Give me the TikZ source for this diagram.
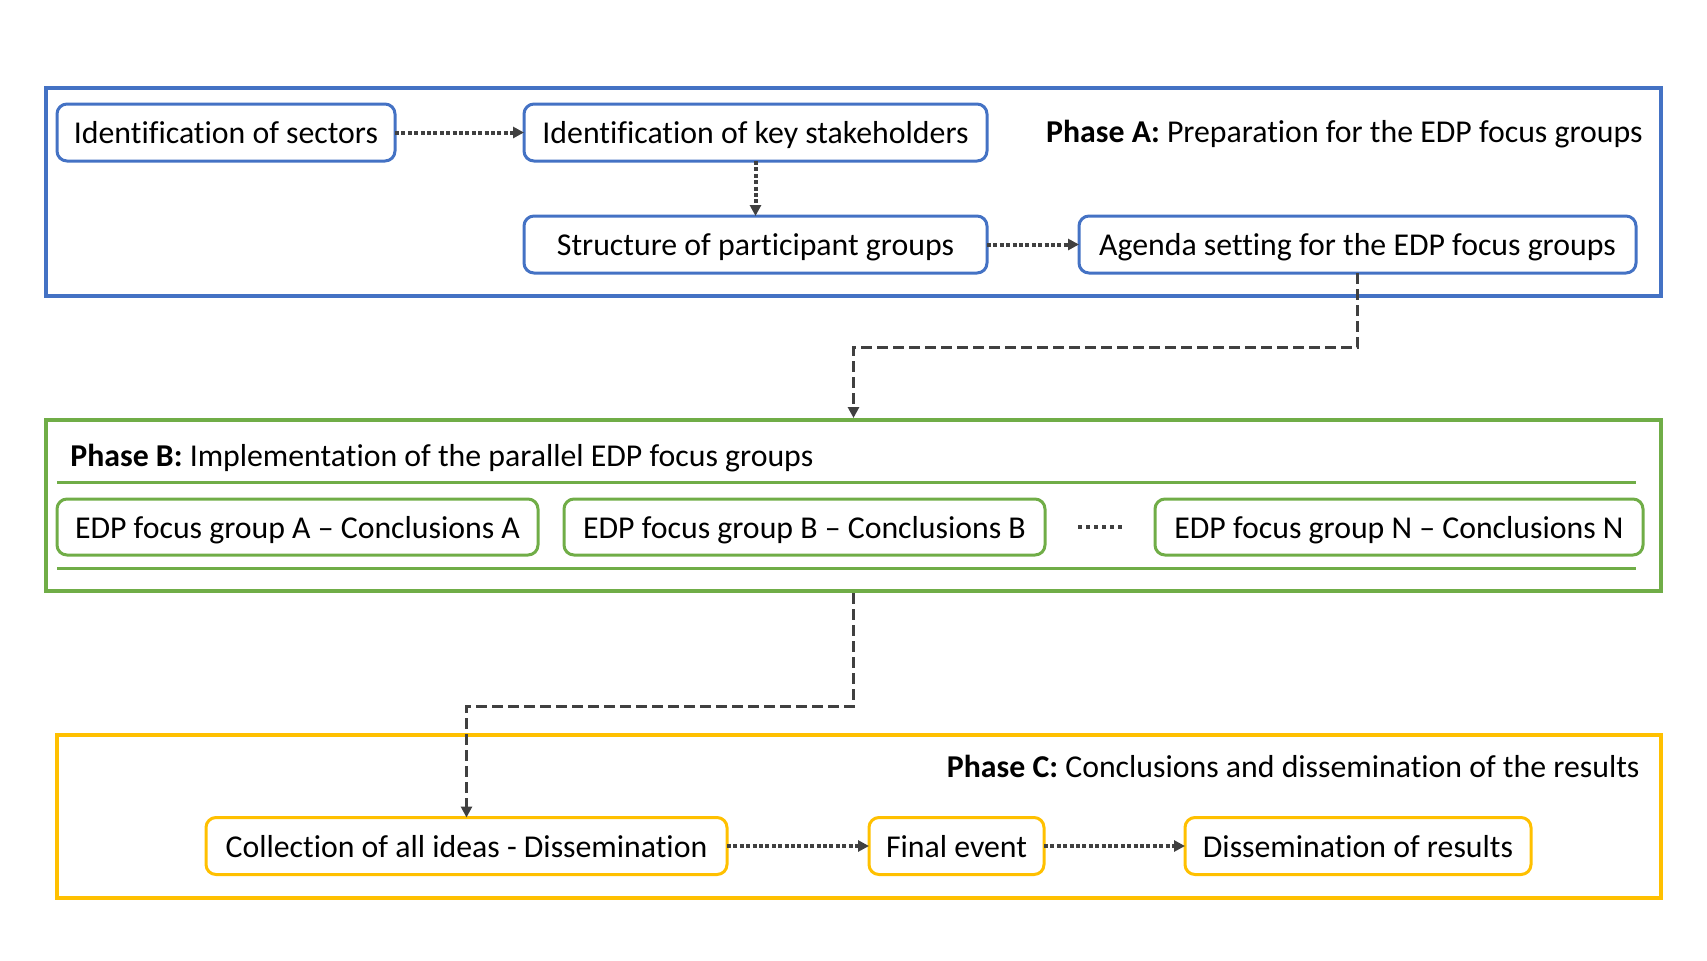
\documentclass[tikz,border=0pt]{standalone}
\usepackage{fontspec}
\setmainfont{Carlito}[Ligatures=NoCommon]
\usepackage{xcolor}
\definecolor{phaseblue}{HTML}{4472C4}
\definecolor{phasegreen}{HTML}{70AD47}
\definecolor{phasegold}{HTML}{FFC000}
\definecolor{arrowgray}{HTML}{404040}
\usepackage{tikz}
\usetikzlibrary{positioning}
\usetikzlibrary{arrows.meta}

\tikzset{
  stepbox/.style={draw, rounded corners=5pt, line width=1.5pt, minimum height=28.5pt, inner sep=2pt, outer sep=0pt, text height=11pt, text depth=0pt, font=\fontsize{15.9}{19}\selectfont},
  bluebox/.style={stepbox, draw=phaseblue},
  greenbox/.style={stepbox, draw=phasegreen, minimum height=28pt},
  goldbox/.style={stepbox, draw=phasegold},
  phaseframe/.style={draw, line width=2pt, inner sep=0pt},
  phaselabel/.style={font=\fontsize{15.9}{19}\selectfont, inner sep=0pt},
  dotarrow/.style={arrowgray, line width=2pt, dash pattern=on 2pt off 1.2pt, -{Triangle[length=5.5pt,width=5.5pt]}},
  dasharrow/.style={arrowgray, line width=1.5pt, dash pattern=on 5.5pt off 2.5pt, -{Triangle[length=5.5pt,width=5.5pt]}}
}

\begin{document}
\begin{tikzpicture}[x=0.5pt,y=-0.5pt]
\useasboundingbox (0,0) rectangle (1707,960);

% Phase A
\node (phaseA) at (853.5,192) [phaseframe, draw=phaseblue, minimum width=807.5pt, minimum height=104pt] {};
\node (labA) at (1643,134) [phaselabel, anchor=east] {\textbf{Phase A:} Preparation for the EDP focus groups};
\node (sectors) at (226,132.5) [bluebox, minimum width=169pt] {Identification of sectors};
\node (stake) [right=64.5pt of sectors] [bluebox, minimum width=231.5pt] {Identification of key stakeholders};
\node (struct) [below=27.5pt of stake] [bluebox, minimum width=231.5pt] {Structure of participant groups};
\node (agenda) [right=46pt of struct] [bluebox, minimum width=278.5pt] {Agenda setting for the EDP focus groups};
\draw[dotarrow] (sectors) -- (stake);
\draw[dotarrow] (stake) -- (struct);
\draw[dotarrow] (struct) -- (agenda);

% Phase B
\node (phaseB) at (853.5,505.5) [phaseframe, draw=phasegreen, minimum width=807.5pt, minimum height=85.5pt] {};
\node (labB) at (70,458) [phaselabel, anchor=west] {\textbf{Phase B:} Implementation of the parallel EDP focus groups};
\draw[phasegreen, line width=1.5pt] (57,482) -- (1636,482);
\draw[phasegreen, line width=1.5pt] (57,568) -- (1636,568);
\node (focusA) at (297.5,527) [greenbox, minimum width=240.5pt] {EDP focus group A -- Conclusions A};
\node (focusB) [right=13pt of focusA] [greenbox, minimum width=240.5pt] {EDP focus group B -- Conclusions B};
\node (focusN) at (1399,527) [greenbox, minimum width=244pt] {EDP focus group N -- Conclusions N};
\draw[arrowgray, line width=2pt, dash pattern=on 2pt off 2pt, shorten <=16.5pt, shorten >=15pt] (focusB) -- (focusN);

% Phase C
\node (phaseC) at (859,816.5) [phaseframe, draw=phasegold, minimum width=802pt, minimum height=81.5pt] {};
\node (labC) at (1640,766) [phaselabel, anchor=east] {\textbf{Phase C:} Conclusions and dissemination of the results};
\node (collect) at (466.5,846) [goldbox, minimum width=260.5pt] {Collection of all ideas - Dissemination};
\node (final) [right=71pt of collect] [goldbox, minimum width=87.5pt] {Final event};
\node (dissem) [right=70.5pt of final] [goldbox, minimum width=173pt] {Dissemination of results};
\draw[dotarrow] (collect) -- (final);
\draw[dotarrow] (final) -- (dissem);

% between phases
\draw[dasharrow] (agenda.south) -- ++(0,74) -| (phaseB.north);
\draw[dasharrow] (phaseB.south) -- ++(0,113) -| (collect.north);
\end{tikzpicture}
\end{document}
